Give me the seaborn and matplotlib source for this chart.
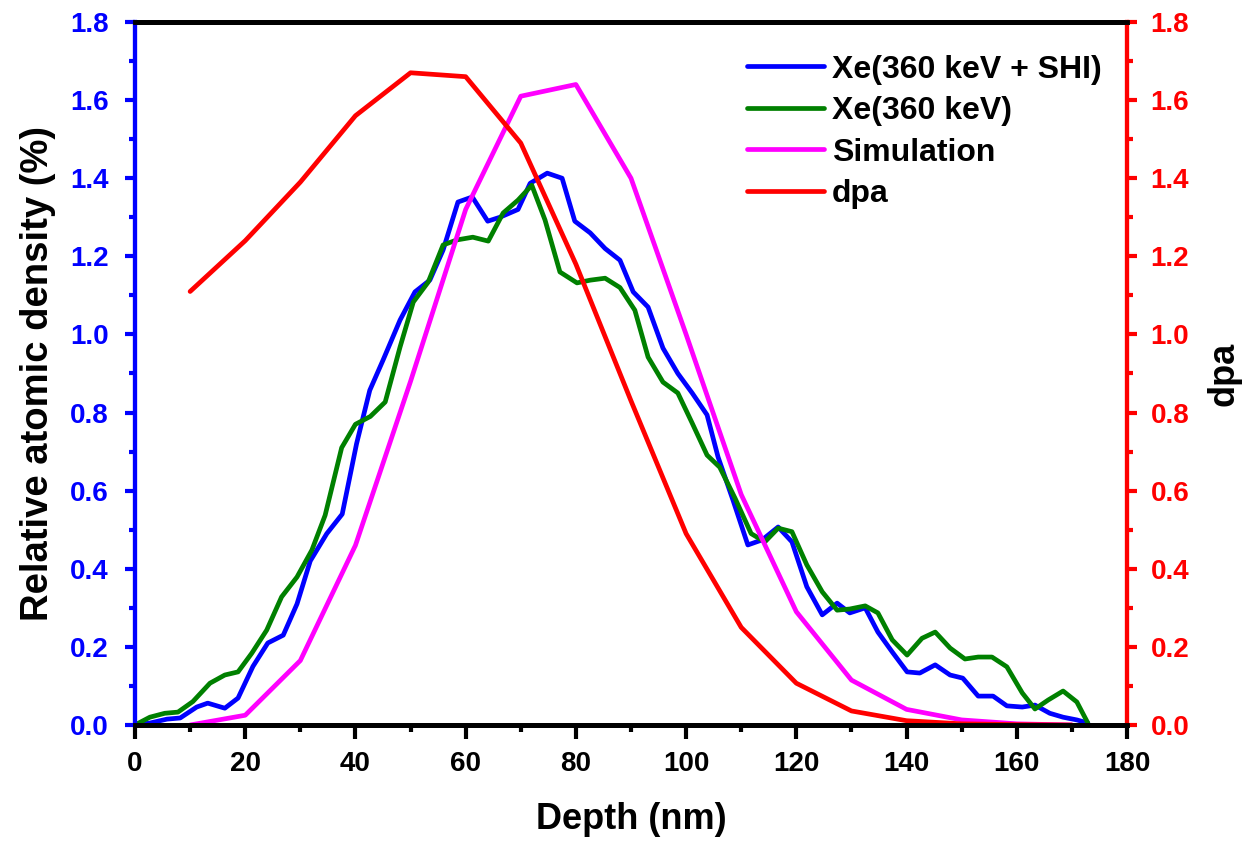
import matplotlib
matplotlib.use("Agg")
import matplotlib.pyplot as plt
from matplotlib.ticker import MultipleLocator
import seaborn as sns

# ---- data ----
depth_shi = [0.0, 2.7, 5.8, 8.2, 11.2, 13.2, 16.3, 18.7, 21.4, 24.1, 26.9, 29.4, 31.8, 34.8,
             37.6, 40.2, 42.6, 45.0, 48.1, 50.8, 53.5, 55.9, 58.6, 61.2, 64.0, 66.2, 69.5,
             71.7, 74.8, 77.5, 79.8, 82.6, 85.3, 88.0, 90.4, 93.1, 95.8, 98.5, 101.1, 103.8,
             105.8, 108.5, 111.2, 113.8, 116.7, 119.2, 121.9, 124.7, 127.4, 129.7, 132.5,
             134.8, 137.4, 140.1, 142.4, 145.2, 147.9, 150.2, 153.0, 155.7, 158.2, 161.0,
             163.3, 166.0, 168.4, 170.9, 172.9]
shi = [0.0, 0.005, 0.015, 0.018, 0.046, 0.056, 0.043, 0.069, 0.15, 0.21, 0.23, 0.31, 0.42,
       0.49, 0.54, 0.72, 0.857, 0.934, 1.037, 1.109, 1.139, 1.216, 1.339, 1.352, 1.29, 1.30,
       1.32, 1.387, 1.413, 1.40, 1.29, 1.26, 1.22, 1.19, 1.109, 1.07, 0.965, 0.90, 0.85,
       0.794, 0.686, 0.576, 0.461, 0.474, 0.507, 0.469, 0.354, 0.282, 0.312, 0.287, 0.30,
       0.238, 0.187, 0.136, 0.133, 0.154, 0.128, 0.12, 0.074, 0.074, 0.049, 0.046, 0.051,
       0.03, 0.02, 0.013, 0.005]

depth_xe = [0.0, 2.7, 5.4, 7.8, 10.5, 13.6, 16.3, 18.7, 21.2, 23.9, 26.6, 29.4, 32.1, 34.5,
            37.5, 40.0, 42.7, 45.4, 48.1, 50.5, 53.2, 55.9, 58.4, 61.3, 64.1, 66.8, 69.5,
            72.0, 74.4, 77.1, 80.2, 82.6, 85.3, 88.0, 90.7, 93.1, 95.8, 98.5, 101.1, 103.8,
            106.1, 108.9, 111.8, 114.3, 116.7, 119.2, 121.9, 124.7, 127.4, 129.7, 132.5,
            134.8, 137.4, 140.1, 142.8, 145.2, 147.9, 150.6, 153.0, 155.5, 158.2, 161.0,
            163.3, 165.7, 168.4, 170.9, 172.9]
xe = [0.0, 0.02, 0.03, 0.033, 0.06, 0.107, 0.128, 0.136, 0.184, 0.243, 0.328, 0.379, 0.448,
      0.537, 0.71, 0.77, 0.79, 0.827, 0.968, 1.083, 1.134, 1.229, 1.242, 1.249, 1.239, 1.311,
      1.344, 1.382, 1.293, 1.16, 1.132, 1.139, 1.144, 1.12, 1.062, 0.942, 0.878, 0.85, 0.773,
      0.691, 0.66, 0.58, 0.49, 0.469, 0.504, 0.495, 0.41, 0.341, 0.294, 0.297, 0.305, 0.287,
      0.218, 0.179, 0.222, 0.238, 0.197, 0.169, 0.174, 0.174, 0.149, 0.082, 0.041, 0.064,
      0.087, 0.059, 0.005]

depth_sim = [10, 20, 30, 40, 50, 60, 70, 80, 90, 100, 110, 120, 130, 140, 150, 160, 170]
sim = [0.0, 0.025, 0.165, 0.46, 0.88, 1.32, 1.61, 1.64, 1.40, 1.0, 0.59, 0.29, 0.115, 0.04,
       0.013, 0.003, 0.0]
dpa = [1.11, 1.24, 1.39, 1.56, 1.67, 1.66, 1.49, 1.18, 0.83, 0.49, 0.25, 0.107, 0.036,
       0.011, 0.003, 0.001, 0.0]

labels = ["Xe(360 keV + SHI)", "Xe(360 keV)", "Simulation", "dpa"]
colors = ["#0000FF", "#008000", "#FF00FF", "#FF0000"]

sns.set_style("white")
plt.rcParams['font.family'] = ['Liberation Sans', 'DejaVu Sans']
plt.rcParams['font.weight'] = 'bold'
plt.rcParams['text.color'] = 'black'
plt.rcParams['axes.labelcolor'] = 'black'

fig = plt.figure(figsize=(12.55, 8.44), dpi=100)
ax = fig.add_axes([135 / 1255, 1 - 725 / 844, (1127 - 135) / 1255, (725 - 22) / 844])
ax2 = ax.twinx()

lw = 3.4
sns.lineplot(x=depth_shi, y=shi, ax=ax, color=colors[0], linewidth=lw, label=labels[0])
sns.lineplot(x=depth_xe, y=xe, ax=ax, color=colors[1], linewidth=lw, label=labels[1])
sns.lineplot(x=depth_sim, y=sim, ax=ax, color=colors[2], linewidth=lw, label=labels[2])
sns.lineplot(x=depth_sim, y=dpa, ax=ax2, color=colors[3], linewidth=lw, label=labels[3])

ax.set_xlim(0, 180)
ax.set_ylim(0, 1.8)
ax2.set_ylim(0, 1.8)

ax.xaxis.set_major_locator(MultipleLocator(20))
ax.xaxis.set_minor_locator(MultipleLocator(10))
for a in (ax, ax2):
    a.yaxis.set_major_locator(MultipleLocator(0.2))
    a.yaxis.set_minor_locator(MultipleLocator(0.1))
ax.yaxis.set_major_formatter(plt.FuncFormatter(lambda v, p: f"{v:.1f}"))
ax2.yaxis.set_major_formatter(plt.FuncFormatter(lambda v, p: f"{v:.1f}"))

tick_fs = 20
ax.tick_params(axis='x', which='major', direction='out', length=10, width=3, colors='black',
               labelsize=tick_fs, bottom=True, top=False, pad=9)
ax.tick_params(axis='x', which='minor', direction='out', length=5, width=3, colors='black',
               bottom=True, top=False)
ax.tick_params(axis='y', which='major', direction='out', length=7, width=3, colors=colors[0],
               labelsize=tick_fs, left=True, right=False, pad=12)
ax.tick_params(axis='y', which='minor', direction='out', length=4, width=3, colors=colors[0],
               left=True, right=False)
ax2.tick_params(axis='y', which='major', direction='out', length=7, width=3, colors=colors[3],
                labelsize=tick_fs, right=True, left=False, pad=10)
ax2.tick_params(axis='y', which='minor', direction='out', length=4, width=3, colors=colors[3],
                right=True, left=False)
for lab in ax.get_xticklabels() + ax.get_yticklabels() + ax2.get_yticklabels():
    lab.set_fontweight('bold')

for a in (ax, ax2):
    a.spines['bottom'].set_color('black')
    a.spines['bottom'].set_linewidth(3.5)
    a.spines['top'].set_color('black')
    a.spines['top'].set_linewidth(3.5)
    a.spines['left'].set_color(colors[0])
    a.spines['left'].set_linewidth(3)
    a.spines['right'].set_color(colors[3])
    a.spines['right'].set_linewidth(3)

ax.set_xlabel("Depth (nm)", fontsize=26, fontweight='bold', labelpad=18, color='black')
ax.set_ylabel("Relative atomic density (%)", fontsize=27.5, fontweight='bold', labelpad=10,
              color='black')
ax2.set_ylabel("dpa", fontsize=26, fontweight='bold', labelpad=12, color='black')

h1, l1 = ax.get_legend_handles_labels()
h2, l2 = ax2.get_legend_handles_labels()
ax.get_legend().remove()
ax2.get_legend().remove()
leg = ax2.legend(h1 + h2, l1 + l2, loc='upper right', frameon=False,
                 prop={'size': 23, 'weight': 'bold'}, handlelength=2.4,
                 labelspacing=0.36, borderaxespad=0.4, handletextpad=0.25,
                 bbox_to_anchor=(1.0, 0.99))
for t in leg.get_texts():
    t.set_color('black')

fig.savefig("out.png", dpi=100)
